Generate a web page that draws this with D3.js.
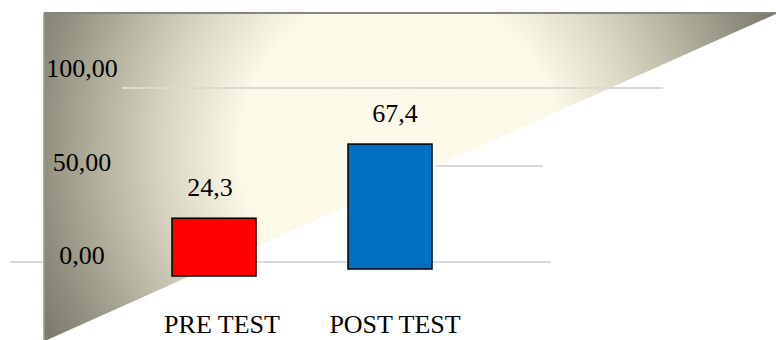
<!DOCTYPE html>
<html>
<head>
<meta charset="utf-8">
<script src="https://cdn.jsdelivr.net/npm/d3@7"></script>
<style>
  html, body { margin: 0; padding: 0; background: #ffffff; }
  svg { display: block; }
  text { font-family: "Liberation Serif", "Times New Roman", serif; fill: #000000; }
</style>
</head>
<body>
<svg id="chart" width="776" height="340"></svg>
<script>
// Scores before and after the test
const categories = ["PRE TEST", "POST TEST"];
const values = [24.3, 67.4];
const valueLabels = ["24,3", "67,4"];

// Value axis
const tickValues = [0, 50, 100];
const tickLabels = ["0,00", "50,00", "100,00"];

const barColors = ["#ff0000", "#0070c0"];

const W = 776, H = 340;
const svg = d3.select("#chart");
const fontSize = 26;

// Bars stand in front of the back wall; the wall and its gridlines are drawn in perspective.
const y = d3.scaleLinear().domain([0, 100]).range([260, 88]);
const gridY = d3.scaleLinear().domain([0, 50, 100]).range([262, 166, 88]);
const labelY = d3.scaleLinear().domain([0, 100]).range([264, 77]);
const x = d3.scalePoint().domain(categories).range([214, 390]);
const floorY = d3.scaleLinear().domain([0, categories.length - 1]).range([276, 269]);
const barWidth = 84;

// Horizontal reach of each gridline on the slanted wall
const gridExtent = {0: [10, 551], 50: [66, 543], 100: [122, 663]};
const frontGrid = new Set([100]);

const defs = svg.append("defs");
const grad = defs.append("radialGradient")
  .attr("id", "wallFill")
  .attr("gradientUnits", "userSpaceOnUse")
  .attr("cx", 400).attr("cy", 150).attr("r", 400);
[
  [0.00, "#fdfaea"],
  [0.40, "#fcf9e8"],
  [0.47, "#efecda"],
  [0.60, "#d7d4c1"],
  [0.74, "#b7b4a2"],
  [0.90, "#908e7e"],
  [1.00, "#7c7a6b"]
].forEach(([o, c]) => grad.append("stop").attr("offset", o).attr("stop-color", c));

function drawGrid(g, ticks) {
  g.selectAll("line")
    .data(ticks)
    .join("line")
    .attr("x1", d => gridExtent[d][0])
    .attr("x2", d => gridExtent[d][1])
    .attr("y1", d => gridY(d))
    .attr("y2", d => gridY(d))
    .attr("stroke", "#d9d9d9")
    .attr("stroke-width", 2);
}

// Gridlines behind the wall
drawGrid(svg.append("g"), tickValues.filter(t => !frontGrid.has(t)));

// Back wall: a triangle bounded by the top edge, the left edge and a diagonal
const wall = [[44, 13], [778, 13], [47, 340], [44, 340]];
svg.append("path")
  .attr("d", d3.line()(wall) + "Z")
  .attr("fill", "url(#wallFill)");

svg.append("line")
  .attr("x1", 44).attr("x2", 44).attr("y1", 13).attr("y2", 340)
  .attr("stroke", "#9a9a9a").attr("stroke-width", 1.5);
svg.append("line")
  .attr("x1", 44).attr("x2", 778).attr("y1", 13).attr("y2", 13)
  .attr("stroke", "#858585").attr("stroke-width", 2);

// Gridlines over the wall
drawGrid(svg.append("g"), tickValues.filter(t => frontGrid.has(t)));

// Value axis labels
svg.append("g")
  .selectAll("text")
  .data(tickValues)
  .join("text")
  .attr("x", 82)
  .attr("y", d => labelY(d))
  .attr("text-anchor", "middle")
  .attr("font-size", fontSize)
  .text((d, i) => tickLabels[i]);

// Bars
svg.append("g")
  .selectAll("rect")
  .data(values)
  .join("rect")
  .attr("x", (d, i) => x(categories[i]) - barWidth / 2)
  .attr("y", d => y(d))
  .attr("width", barWidth)
  .attr("height", (d, i) => floorY(i) - y(d))
  .attr("fill", (d, i) => barColors[i])
  .attr("stroke", "#000000")
  .attr("stroke-width", 1.5);

// Value labels above the bars
svg.append("g")
  .selectAll("text")
  .data(values)
  .join("text")
  .attr("x", (d, i) => x(categories[i]) + (i === 0 ? -4 : 5))
  .attr("y", d => y(d) - 22)
  .attr("text-anchor", "middle")
  .attr("font-size", fontSize)
  .text((d, i) => valueLabels[i]);

// Category labels
svg.append("g")
  .selectAll("text")
  .data(categories)
  .join("text")
  .attr("x", (d, i) => x(d) + (i === 0 ? 8 : 5))
  .attr("y", 333)
  .attr("text-anchor", "middle")
  .attr("font-size", fontSize)
  .text(d => d);
</script>
</body>
</html>
